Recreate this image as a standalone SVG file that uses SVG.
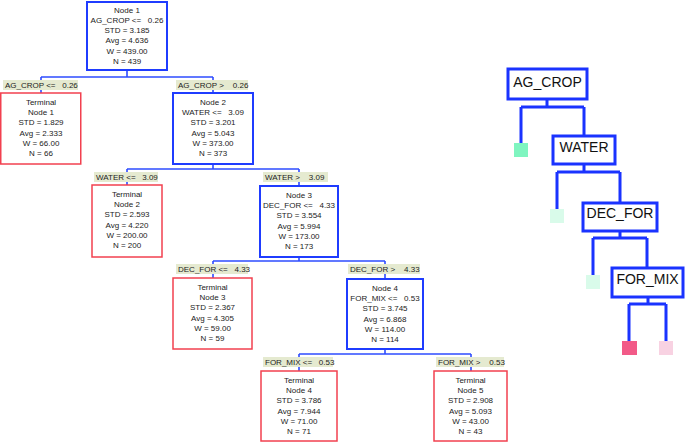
<svg xmlns="http://www.w3.org/2000/svg" width="685" height="442" viewBox="0 0 685 442">
<style>
.bg{fill:#ffffff}
.nb{fill:#ffffff;stroke:#1f3cff;stroke-width:2}
.tb{fill:#ffffff;stroke:#f2404f;stroke-width:1.5}
.lb{fill:#e5ead0}
.t{font-family:"Liberation Sans",Arial,sans-serif;font-size:8px;fill:#222222;text-anchor:middle}
.l{font-family:"Liberation Sans",Arial,sans-serif;font-size:8px;fill:#222222}
.c{fill:none;stroke:#2e4cff;stroke-width:1.6}
.rc{fill:none;stroke:#1a33ff;stroke-width:3}
.rb{fill:#ffffff;stroke:#1a33ff;stroke-width:3}
.rt{font-family:"Liberation Sans",Arial,sans-serif;font-size:14px;fill:#111111;text-anchor:middle}
</style>
<rect class="bg" x="0" y="0" width="685" height="442"/>
<g id="connectors">
<path class="c" d="M127,70 V77 M41,77 H213 M41,77 V93 M213,77 V93"/>
<path class="c" d="M213,164 V169 M127,169 H299 M127,169 V185 M299,169 V186"/>
<path class="c" d="M299,257 V261 M213,261 H385 M213,261 V278 M385,261 V279"/>
<path class="c" d="M385,349 V354 M299,354 H471 M299,354 V371 M471,354 V371"/>
</g>
<g id="edge-labels">
<rect class="lb" x="3" y="80" width="75" height="10"/>
<text class="l" x="5" y="88" xml:space="preserve">AG_CROP &lt;=   0.26</text>
<rect class="lb" x="176" y="80" width="72" height="10"/>
<text class="l" x="178" y="88" xml:space="preserve">AG_CROP &gt;    0.26</text>
<rect class="lb" x="94" y="172" width="64" height="10"/>
<text class="l" x="96" y="180" xml:space="preserve">WATER &lt;=   3.09</text>
<rect class="lb" x="263" y="172" width="65" height="10"/>
<text class="l" x="265" y="180" xml:space="preserve">WATER &gt;    3.09</text>
<rect class="lb" x="176" y="264" width="72" height="10"/>
<text class="l" x="178" y="272" xml:space="preserve">DEC_FOR &lt;=   4.33</text>
<rect class="lb" x="348" y="264" width="72" height="10"/>
<text class="l" x="350" y="272" xml:space="preserve">DEC_FOR &gt;    4.33</text>
<rect class="lb" x="263" y="357" width="70" height="10"/>
<text class="l" x="265" y="365" xml:space="preserve">FOR_MIX &lt;=   0.53</text>
<rect class="lb" x="436" y="357" width="68" height="10"/>
<text class="l" x="438" y="365" xml:space="preserve">FOR_MIX &gt;    0.53</text>
</g>
<g id="node1">
<rect class="nb" x="87" y="2" width="80" height="68"/>
<text class="t" x="127" y="12.5">Node 1</text>
<text class="t" x="127" y="22.8" xml:space="preserve">AG_CROP &lt;=   0.26</text>
<text class="t" x="127" y="33">STD = 3.185</text>
<text class="t" x="127" y="43.3">Avg = 4.636</text>
<text class="t" x="127" y="53.6">W = 439.00</text>
<text class="t" x="127" y="64">N = 439</text>
</g>
<g id="terminal1">
<rect class="tb" x="0.75" y="93" width="80" height="71"/>
<text class="t" x="41" y="105">Terminal</text>
<text class="t" x="41" y="115.2">Node 1</text>
<text class="t" x="41" y="125.4">STD = 1.829</text>
<text class="t" x="41" y="135.6">Avg = 2.333</text>
<text class="t" x="41" y="145.8">W = 66.00</text>
<text class="t" x="41" y="156">N = 66</text>
</g>
<g id="node2">
<rect class="nb" x="173" y="93" width="80" height="71"/>
<text class="t" x="213" y="105">Node 2</text>
<text class="t" x="213" y="115.2" xml:space="preserve">WATER &lt;=   3.09</text>
<text class="t" x="213" y="125.4">STD = 3.201</text>
<text class="t" x="213" y="135.6">Avg = 5.043</text>
<text class="t" x="213" y="145.8">W = 373.00</text>
<text class="t" x="213" y="156">N = 373</text>
</g>
<g id="terminal2">
<rect class="tb" x="92" y="185" width="70" height="72"/>
<text class="t" x="127" y="197">Terminal</text>
<text class="t" x="127" y="207.2">Node 2</text>
<text class="t" x="127" y="217.4">STD = 2.593</text>
<text class="t" x="127" y="227.6">Avg = 4.220</text>
<text class="t" x="127" y="237.8">W = 200.00</text>
<text class="t" x="127" y="248">N = 200</text>
</g>
<g id="node3">
<rect class="nb" x="260" y="186" width="78" height="71"/>
<text class="t" x="299" y="198">Node 3</text>
<text class="t" x="299" y="208.2" xml:space="preserve">DEC_FOR &lt;=   4.33</text>
<text class="t" x="299" y="218.4">STD = 3.554</text>
<text class="t" x="299" y="228.6">Avg = 5.994</text>
<text class="t" x="299" y="238.8">W = 173.00</text>
<text class="t" x="299" y="249">N = 173</text>
</g>
<g id="terminal3">
<rect class="tb" x="173" y="278" width="79" height="71"/>
<text class="t" x="212.5" y="290">Terminal</text>
<text class="t" x="212.5" y="300.2">Node 3</text>
<text class="t" x="212.5" y="310.4">STD = 2.367</text>
<text class="t" x="212.5" y="320.6">Avg = 4.305</text>
<text class="t" x="212.5" y="330.8">W = 59.00</text>
<text class="t" x="212.5" y="341">N = 59</text>
</g>
<g id="node4">
<rect class="nb" x="347" y="279" width="76" height="70"/>
<text class="t" x="385" y="291">Node 4</text>
<text class="t" x="385" y="301.2" xml:space="preserve">FOR_MIX &lt;=   0.53</text>
<text class="t" x="385" y="311.4">STD = 3.745</text>
<text class="t" x="385" y="321.6">Avg = 6.868</text>
<text class="t" x="385" y="331.8">W = 114.00</text>
<text class="t" x="385" y="342">N = 114</text>
</g>
<g id="terminal4">
<rect class="tb" x="261" y="371" width="76" height="70"/>
<text class="t" x="299" y="383">Terminal</text>
<text class="t" x="299" y="393.2">Node 4</text>
<text class="t" x="299" y="403.4">STD = 3.786</text>
<text class="t" x="299" y="413.6">Avg = 7.944</text>
<text class="t" x="299" y="423.8">W = 71.00</text>
<text class="t" x="299" y="434">N = 71</text>
</g>
<g id="terminal5">
<rect class="tb" x="434" y="371" width="73" height="70"/>
<text class="t" x="470.5" y="383">Terminal</text>
<text class="t" x="470.5" y="393.2">Node 5</text>
<text class="t" x="470.5" y="403.4">STD = 2.908</text>
<text class="t" x="470.5" y="413.6">Avg = 5.093</text>
<text class="t" x="470.5" y="423.8">W = 43.00</text>
<text class="t" x="470.5" y="434">N = 43</text>
</g>
<g id="mini-connectors">
<path class="rc" d="M547,99 V107 M521,107 H584 M521,107 V143 M584,107 V136"/>
<path class="rc" d="M584,164 V172 M557,172 H620 M557,172 V209 M620,172 V203"/>
<path class="rc" d="M620,231 V238 M593,238 H647 M593,238 V275 M647,238 V268"/>
<path class="rc" d="M648,297 V304 M629,304 H666 M629,304 V341 M666,304 V341"/>
</g>
<g id="mini-ag_crop">
<rect class="rb" x="508" y="69" width="79" height="30"/>
<text class="rt" x="547.5" y="87">AG_CROP</text>
</g>
<g id="mini-leaf1"><rect x="514" y="143" width="14" height="14" fill="#7ff5c0"/></g>
<g id="mini-water">
<rect class="rb" x="553" y="136" width="62" height="28"/>
<text class="rt" x="584" y="152">WATER</text>
</g>
<g id="mini-leaf2"><rect x="550" y="209" width="14" height="14" fill="#d9fbea"/></g>
<g id="mini-dec_for">
<rect class="rb" x="583" y="203" width="74" height="28"/>
<text class="rt" x="620" y="217.5">DEC_FOR</text>
</g>
<g id="mini-leaf3"><rect x="586" y="275" width="14" height="14" fill="#d9fbea"/></g>
<g id="mini-for_mix">
<rect class="rb" x="612" y="268" width="71" height="29"/>
<text class="rt" x="647.5" y="284">FOR_MIX</text>
</g>
<g id="mini-leaf4"><rect x="622" y="341" width="15" height="14" fill="#f25a88"/></g>
<g id="mini-leaf5"><rect x="659" y="341" width="14" height="14" fill="#f8d2e2"/></g>
</svg>
